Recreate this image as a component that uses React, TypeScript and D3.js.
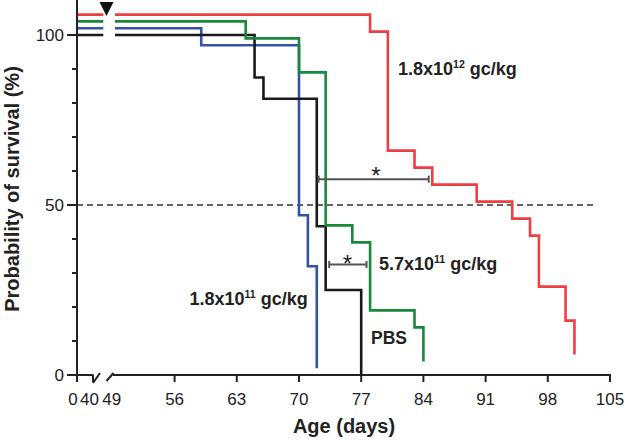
import React from "react";
import * as d3 from "d3";

// ---- data ----
const pbsDays = [0, 65, 66, 72, 73, 77];
const pbsSurv = [100, 87.5, 81.25, 43.75, 25, 0];
const lowDays = [0, 59, 70, 71, 72];
const lowSurv = [100, 95, 45, 30, 0];
const midDays = [0, 64, 70, 73, 76, 78, 83, 84];
const midSurv = [100, 95, 85, 40, 35, 15, 10, 0];
const highDays = [0, 78, 80, 83, 85, 90, 94, 96, 97, 100, 101];
const highSurv = [100, 95, 60, 55, 50, 45, 40, 35, 20, 10, 0];

const xTicks = [0, 40, 56, 63, 70, 77, 84, 91, 98, 105];
const yMajor = [0, 50, 100];
const yMinor = [10, 20, 30, 40, 60, 70, 80, 90];

const series = [
  { name: "1.8x10^11", days: lowDays, surv: lowSurv, offset: 2, color: "#3352a8" },
  { name: "PBS", days: pbsDays, surv: pbsSurv, offset: 0, color: "#1a1a1a" },
  { name: "5.7x10^11", days: midDays, surv: midSurv, offset: 4, color: "#17883c" },
  { name: "1.8x10^12", days: highDays, surv: highSurv, offset: 6, color: "#ef3e42" },
];

const brackets = [
  { d0: 72.2, d1: 84.6, level: 57.6 },
  { d0: 73.4, d1: 77.6, level: 32.5 },
];

const FONT = "'Liberation Sans', Arial, Helvetica, sans-serif";

export default function App() {
  const W = 625, H = 440;
  const x = d3.scaleLinear().domain([0, 40, 49, 105]).range([77, 93, 112.4, 610]);
  const y = d3.scaleLinear().domain([0, 100]).range([375, 35]);

  const line = d3
    .line<[number, number]>()
    .x((d) => x(d[0]))
    .y((d) => y(d[1]))
    .curve(d3.curveStepAfter);

  const axisColor = "#222";
  const x0 = x(0);
  const y0 = y(0);

  const labelPos: [string, number][] = [
    ["0", x(0) - 4],
    ["40", x(40) - 3.5],
    ["49", x(49) - 0.7],
    ...xTicks.slice(2).map((t) => [String(t), x(t)] as [string, number]),
  ];

  return (
    <svg
      width={W}
      height={H}
      style={{ position: "absolute", left: 0, top: 0, background: "#fff" }}
      fontFamily={FONT}
    >
      <rect width={W} height={H} fill="#fff" />

      {/* 50% dashed line */}
      <line
        x1={x0}
        x2={x(103.3)}
        y1={y(50)}
        y2={y(50)}
        stroke="#333"
        strokeWidth={1.5}
        strokeDasharray="6,4"
      />

      {/* survival curves */}
      {series.map((s) => (
        <path
          key={s.name}
          d={line(s.days.map((d, i) => [d, s.surv[i] + s.offset] as [number, number])) || ""}
          fill="none"
          stroke={s.color}
          strokeWidth={2.6}
        />
      ))}

      {/* break gap in curves */}
      <rect x={103.3} y={5} width={11.7} height={40} fill="#fff" />
      {/* arrow marker */}
      <path d="M99.5,2 L113.5,2 L106.5,16 Z" fill="#111" />

      {/* y axis */}
      <line x1={x0} x2={x0} y1={0} y2={y0 + 6} stroke={axisColor} strokeWidth={2} />
      {yMajor.map((v) => (
        <g key={"ym" + v}>
          <line x1={x0 - 10} x2={x0} y1={y(v)} y2={y(v)} stroke={axisColor} strokeWidth={2} />
          <text x={x0 - 13} y={y(v)} dy="0.35em" textAnchor="end" fontSize={17} fill="#222">
            {v}
          </text>
        </g>
      ))}
      {yMinor.map((v) => (
        <line key={"yn" + v} x1={x0 - 5} x2={x0} y1={y(v)} y2={y(v)} stroke={axisColor} strokeWidth={2} />
      ))}

      {/* x axis with break */}
      <line x1={x0} x2={x(40) + 0.5} y1={y0} y2={y0} stroke={axisColor} strokeWidth={2} />
      <line x1={113} x2={x(105) + 1} y1={y0} y2={y0} stroke={axisColor} strokeWidth={2} />
      <line x1={93} y1={383} x2={100} y2={373} stroke={axisColor} strokeWidth={2} />
      <line x1={106.5} y1={381} x2={113.5} y2={373} stroke={axisColor} strokeWidth={2} />
      {xTicks.map((t) => (
        <line key={"xt" + t} x1={x(t)} x2={x(t)} y1={y0} y2={y0 + 7} stroke={axisColor} strokeWidth={2} />
      ))}
      {labelPos.map(([lab, px]) => (
        <text key={"xl" + lab} x={px} y={405} textAnchor="middle" fontSize={17} fill="#222">
          {lab}
        </text>
      ))}

      {/* axis titles */}
      <text x={344} y={433} textAnchor="middle" fontSize={20} fontWeight="bold" fill="#222">
        Age (days)
      </text>
      <text
        transform={`translate(19,189) rotate(-90)`}
        textAnchor="middle"
        fontSize={20}
        fontWeight="bold"
        fill="#222"
      >
        Probability of survival (%)
      </text>

      {/* significance brackets */}
      {brackets.map((b, i) => {
        const yy = y(b.level);
        return (
          <g key={"br" + i} stroke="#555" strokeWidth={2}>
            <line x1={x(b.d0)} x2={x(b.d1)} y1={yy} y2={yy} />
            <line x1={x(b.d0)} x2={x(b.d0)} y1={yy - 3.5} y2={yy + 3.5} />
            <line x1={x(b.d1)} x2={x(b.d1)} y1={yy - 3.5} y2={yy + 3.5} />
          </g>
        );
      })}
      <text x={375.8} y={184} textAnchor="middle" fontSize={24} fill="#222">*</text>
      <text x={347.5} y={271.5} textAnchor="middle" fontSize={24} fill="#222">*</text>

      {/* group labels */}
      <text x={398} y={75} fontSize={18} fontWeight="bold" fill="#222">
        1.8x10<tspan fontSize={10.5} dy={-7.5}>12</tspan>
        <tspan dy={7.5}> gc/kg</tspan>
      </text>
      <text x={379} y={270} fontSize={18} fontWeight="bold" fill="#222">
        5.7x10<tspan fontSize={10.5} dy={-7.5}>11</tspan>
        <tspan dy={7.5}> gc/kg</tspan>
      </text>
      <text x={189.5} y={305} fontSize={18} fontWeight="bold" fill="#222">
        1.8x10<tspan fontSize={10.5} dy={-7.5}>11</tspan>
        <tspan dy={7.5}> gc/kg</tspan>
      </text>
      <text x={371} y={343.5} fontSize={17.5} fontWeight="bold" fill="#222">
        PBS
      </text>
    </svg>
  );
}
